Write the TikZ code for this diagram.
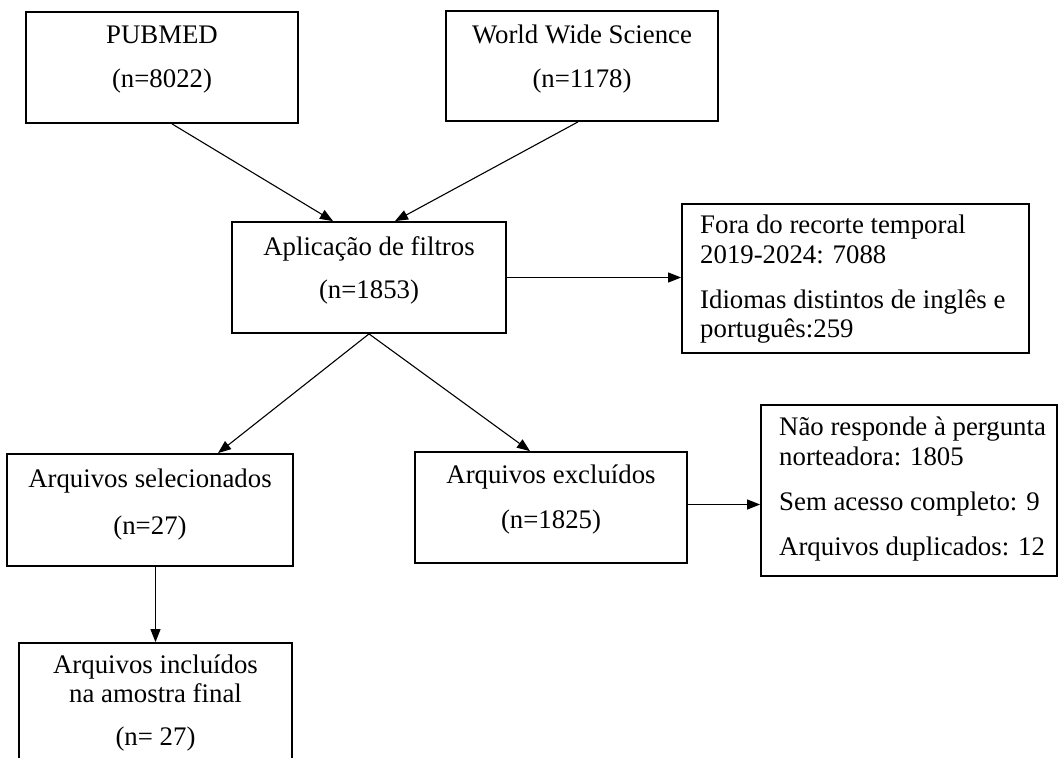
\documentclass[tikz,border=0pt]{standalone}
\usepackage{fontspec}
\setmainfont{Liberation Serif}
\usetikzlibrary{arrows.meta,fit,calc}
\begin{document}
\begin{tikzpicture}[x=1pt,y=-1pt,
  box/.style={draw=black,line width=1.8pt,inner sep=0pt,rectangle},
  txt/.style={font=\fontsize{26.8}{30}\selectfont,inner sep=0pt,anchor=base},
  ltxt/.style={font=\fontsize{26.8}{30}\selectfont,inner sep=0pt,anchor=base west},
  arr/.style={draw=black,line width=1.1pt,-{Triangle[length=13pt,width=10pt]}}]
\useasboundingbox (0,0) rectangle (1059,757);
\fill[white] (0,0) rectangle (1059,757);

% boxes
\node[box,fit={(26,12) (298,123)}] (pub) {};
\node[box,fit={(446,11) (718,121)}] (wws) {};
\node[box,fit={(232,222) (506,333)}] (apl) {};
\node[box,fit={(682,204) (1029,353)}] (fora) {};
\node[box,fit={(7,454) (293,566)}] (sel) {};
\node[box,fit={(415,452) (687,563)}] (exc) {};
\node[box,fit={(761,405) (1057,576)}] (nao) {};
\node[box,fit={(19,643) (292,762)}] (inc) {};

% texts
\node[txt] (pubA) at (162,44) {PUBMED};
\node[txt] (pubB) at (162,88) {(n=8022)};
\node[txt] (wwsA) at (582,44) {World Wide Science};
\node[txt] (wwsB) at (582,88) {(n=1178)};
\node[txt] (aplA) at (369,255) {Aplicação de filtros};
\node[txt] (aplB) at (369,298) {(n=1853)};
\node[ltxt] (foraA) at (700,233) {Fora do recorte temporal};
\node[ltxt] (foraB) at (700,263) {2019-2024: 7088};
\node[ltxt] (foraC) at (700,308) {Idiomas distintos de inglês e};
\node[ltxt] (foraD) at (700,337) {português:259};
\node[txt] (selA) at (150,487) {Arquivos selecionados};
\node[txt] (selB) at (150,534) {(n=27)};
\node[txt] (excA) at (551,483) {Arquivos excluídos};
\node[txt] (excB) at (551,528) {(n=1825)};
\node[ltxt] (naoA) at (779,435) {Não responde à pergunta};
\node[ltxt] (naoB) at (779,465) {norteadora: 1805};
\node[ltxt] (naoC) at (779,510) {Sem acesso completo: 9};
\node[ltxt] (naoD) at (779,555) {Arquivos duplicados: 12};
\node[txt] (incA) at (155.5,673) {Arquivos incluídos};
\node[txt] (incB) at (155.5,702) {na amostra final};
\node[txt] (incC) at (155.5,745) {(n= 27)};

% connectors
\draw[arr] ([xshift=10pt]pub.south) -- ([xshift=-36pt]apl.north);
\draw[arr] ([xshift=-4pt]wws.south) -- ([xshift=26pt]apl.north);
\draw[arr] (apl.east) -- (apl.east -| fora.west);
\draw[arr] (apl.south) -- ([xshift=68pt]sel.north);
\draw[arr] (apl.south) -- ([xshift=-21pt]exc.north);
\coordinate (e1) at ([yshift=3pt]exc.east);
\draw[arr] (e1) -- (e1 -| nao.west);
\draw[arr] (inc.north |- sel.south) -- (inc.north);
\end{tikzpicture}
\end{document}
